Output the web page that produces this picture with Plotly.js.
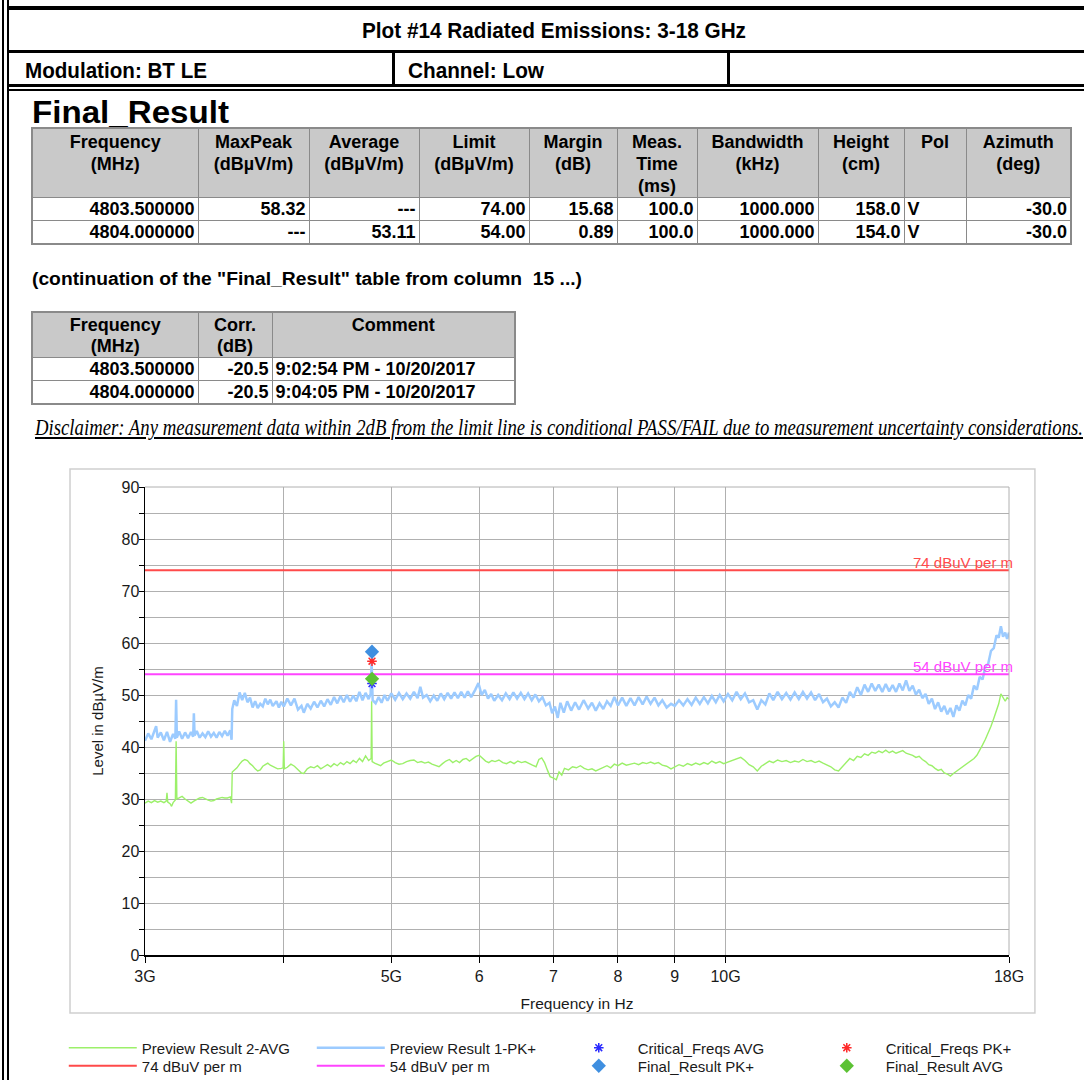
<!DOCTYPE html>
<html><head><meta charset="utf-8">
<script src="https://cdn.plot.ly/plotly-3.0.1.min.js"></script>
<style>
html,body{margin:0;padding:0;background:#fff}
body{width:1084px;height:1080px;overflow:hidden;position:relative;font-family:"Liberation Sans",Arial,sans-serif;color:#000}
.bk{position:absolute;background:#000}
.txt{position:absolute;white-space:nowrap;transform-origin:0 50%;display:inline-block;line-height:1}
.narrow{font-family:"Liberation Sans Narrow","Liberation Sans",Arial,sans-serif;font-weight:bold}
table.t{position:absolute;border-collapse:collapse;table-layout:fixed;font-weight:bold;font-size:18px;border:2px solid #8a8a8a}
table.t td,table.t th{border:1px solid #8a8a8a;padding:0 3px;white-space:nowrap;overflow:hidden}
table.t th{background:#c9c9c9;vertical-align:top;text-align:center;font-weight:bold;line-height:22px;padding-top:2px}
table.t td{text-align:right;height:21px;line-height:21px;background:#fff;padding-top:1px}
table.t td.l{text-align:left}
#chart{position:absolute;left:0;top:0;width:1084px;height:1080px}
</style></head><body>
<div id="chart"></div>

<div class="bk" style="left:2px;top:0;width:2px;height:1080px"></div>
<div class="bk" style="left:7px;top:0;width:2px;height:1080px"></div>
<div class="bk" style="left:7px;top:6px;width:1077px;height:4px"></div>
<div class="bk" style="left:7px;top:50px;width:1077px;height:3px"></div>
<div class="bk" style="left:392px;top:53px;width:3px;height:32px"></div>
<div class="bk" style="left:727px;top:53px;width:3px;height:32px"></div>
<div class="bk" style="left:7px;top:84px;width:1077px;height:3px"></div>
<div class="bk" style="left:7px;top:89px;width:1077px;height:2px"></div>

<div id="tTitle" class="txt narrow" style="left:362px;top:20px;font-size:22px"></div>
<div id="tMod" class="txt narrow" style="left:25px;top:60px;font-size:22px"></div>
<div id="tChan" class="txt narrow" style="left:408px;top:60px;font-size:22px"></div>
<div id="tFinal" class="txt" style="left:32px;top:96px;font-size:32px;font-weight:bold"></div>
<table id="tab1" class="t" style="left:31px;top:127px"></table>
<div id="tCont" class="txt" style="left:32px;top:270px;font-size:18px;font-weight:bold"></div>
<table id="tab2" class="t" style="left:31px;top:311px"></table>
<div id="tDisc" class="txt" style="left:35px;top:416px;font-size:23px;font-style:italic;font-family:'Liberation Serif','Times New Roman',serif;text-decoration:underline"></div>

<script>
// ---------- header texts ----------
const plotTitle = "Plot #14 Radiated Emissions: 3-18 GHz";
const modulationText = "Modulation: BT LE";
const channelText = "Channel: Low";
const finalTitle = "Final_Result";
const continuationText = '(continuation of the "Final_Result" table from column\u00a0 15 ...)';
const disclaimerText = "Disclaimer: Any measurement data within 2dB from the limit line is conditional PASS/FAIL due to measurement uncertainty considerations.";

// ---------- Final_Result table ----------
const finalHeaders = ["Frequency<br>(MHz)","MaxPeak<br>(dBµV/m)","Average<br>(dBµV/m)","Limit<br>(dBµV/m)","Margin<br>(dB)","Meas.<br>Time<br>(ms)","Bandwidth<br>(kHz)","Height<br>(cm)","Pol","Azimuth<br>(deg)"];
const finalColWidths = [166,111,110,110,88,80,121,86,62,105];
const finalFreqMHz = [4803.5, 4804.0];
const finalMaxPeak = [58.32, null];
const finalAverage = [null, 53.11];
const finalLimit = [74.00, 54.00];
const finalMargin = [15.68, 0.89];
const finalMeasTime = [100.0, 100.0];
const finalBandwidth = [1000.000, 1000.000];
const finalHeight = [158.0, 154.0];
const finalPol = ["V", "V"];
const finalAzimuth = [-30.0, -30.0];

// ---------- continuation table ----------
const contHeaders = ["Frequency<br>(MHz)","Corr.<br>(dB)","Comment"];
const contColWidths = [166,74,243];
const contCorr = [-20.5, -20.5];
const contComment = ["9:02:54 PM - 10/20/2017", "9:04:05 PM - 10/20/2017"];

// ---------- chart data (frequency in GHz, level in dBµV/m) ----------
const pkFreq = [
3.00,3.02,3.04,3.06,3.07,3.08,3.10,3.12,3.14,3.16,
3.18,3.195,3.20,3.205,3.22,3.24,3.26,3.28,3.30,3.315,
3.32,3.325,3.34,3.36,3.38,3.40,3.42,3.44,3.46,3.48,
3.50,3.52,3.54,3.56,3.58,3.59,3.595,3.61,3.63,3.65,
3.67,3.69,3.71,3.73,3.75,3.77,3.79,3.81,3.83,3.85,
3.87,3.89,3.91,3.94,3.96,3.98,4.00,4.03,4.06,4.09,
4.12,4.15,4.17,4.20,4.23,4.26,4.29,4.32,4.35,4.38,
4.41,4.44,4.47,4.50,4.53,4.56,4.59,4.62,4.65,4.68,
4.71,4.74,4.77,4.79,4.80,4.81,4.84,4.87,4.90,4.93,
4.96,5.00,5.04,5.08,5.12,5.16,5.20,5.24,5.28,5.31,
5.34,5.38,5.42,5.46,5.50,5.54,5.58,5.62,5.66,5.70,
5.74,5.78,5.82,5.86,5.90,5.95,5.99,6.03,6.07,6.11,
6.15,6.19,6.24,6.29,6.34,6.39,6.44,6.49,6.54,6.59,
6.64,6.69,6.74,6.79,6.84,6.89,6.94,6.98,7.02,7.06,
7.10,7.15,7.20,7.26,7.32,7.38,7.45,7.52,7.58,7.64,
7.70,7.76,7.82,7.88,7.94,8.00,8.07,8.14,8.21,8.28,
8.35,8.42,8.49,8.56,8.63,8.70,8.77,8.85,8.93,9.00,
9.08,9.16,9.24,9.32,9.40,9.48,9.56,9.64,9.72,9.80,
9.88,9.96,10.05,10.14,10.23,10.32,10.41,10.50,10.59,10.68,
10.77,10.86,10.95,11.04,11.14,11.24,11.34,11.44,11.54,11.64,
11.74,11.84,11.94,12.04,12.14,12.24,12.34,12.44,12.54,12.64,
12.74,12.84,12.94,13.04,13.14,13.24,13.34,13.44,13.54,13.64,
13.74,13.84,13.94,14.04,14.14,14.24,14.34,14.44,14.54,14.64,
14.74,14.84,14.94,15.04,15.14,15.24,15.34,15.44,15.54,15.64,
15.74,15.84,15.94,16.04,16.14,16.24,16.34,16.44,16.54,16.64,
16.74,16.84,16.94,17.04,17.14,17.24,17.34,17.44,17.54,17.62,
17.70,17.78,17.86,17.93,18.00];
const pkLevel = [
41.2,42.6,41.5,43.2,44.0,41.8,42.8,41.3,42.9,41.0,
42.5,41.6,49.1,41.8,43.0,41.6,42.8,41.7,42.9,42.0,
46.5,42.2,43.1,41.8,42.6,41.9,43.0,42.0,42.7,41.8,
42.9,42.1,43.1,42.2,43.2,41.4,47.3,49.0,47.9,50.5,
49.0,50.4,48.6,49.5,47.6,48.8,47.5,48.3,47.8,49.3,
48.2,49.1,47.9,48.8,47.6,48.7,47.8,49.3,48.0,49.3,
47.2,47.9,46.6,48.3,47.4,48.7,47.6,48.9,47.8,49.2,
48.1,49.6,48.4,49.8,48.6,50.0,48.7,49.9,48.8,50.6,
49.0,50.4,49.2,50.2,56.5,49.0,48.4,49.6,48.5,50.0,
48.9,50.3,49.1,50.4,49.2,50.3,49.3,50.6,49.4,51.6,
49.5,50.0,48.8,49.9,48.9,50.3,49.2,50.4,49.3,50.5,
49.4,50.6,49.5,50.7,49.6,51.0,52.3,50.0,51.0,49.3,
50.2,48.9,50.0,49.0,50.3,49.2,50.5,49.3,50.4,49.2,
50.3,49.0,50.1,48.8,49.6,48.0,48.5,46.5,47.8,45.6,
48.5,46.6,48.8,47.0,48.6,47.2,49.0,47.4,48.5,47.0,
48.4,47.3,48.8,47.9,49.6,48.0,49.5,47.9,49.4,48.0,
49.6,48.2,49.7,48.3,49.5,48.0,49.0,47.6,48.3,47.9,
49.0,48.0,49.2,48.1,49.5,48.3,49.6,48.4,49.8,48.6,
50.0,48.8,50.2,49.0,50.6,49.2,50.3,48.6,49.0,47.2,
49.0,48.2,50.3,49.0,50.6,49.2,50.4,49.1,50.5,49.2,
50.6,49.3,50.5,49.0,50.2,48.6,49.3,47.8,48.6,47.6,
49.5,48.5,50.6,49.5,51.5,50.0,52.0,50.6,52.2,50.8,
52.0,50.6,52.1,50.7,51.9,50.6,52.2,50.9,52.8,50.8,
51.8,50.1,51.0,49.4,50.2,48.3,49.3,47.3,48.6,46.8,
47.9,46.3,47.5,45.8,48.0,47.0,48.9,48.0,50.0,49.3,
51.8,51.0,53.5,53.0,55.5,56.0,58.5,59.0,61.5,61.0,
63.2,61.2,62.0,60.8,62.0];

const avgFreq = [
3.00,3.02,3.04,3.06,3.08,3.10,3.12,3.135,3.14,3.145,
3.16,3.17,3.18,3.19,3.195,3.20,3.205,3.22,3.24,3.26,
3.28,3.30,3.32,3.34,3.36,3.38,3.40,3.42,3.44,3.46,
3.48,3.50,3.52,3.54,3.56,3.58,3.59,3.595,3.61,3.63,
3.65,3.67,3.69,3.71,3.73,3.75,3.77,3.79,3.81,3.83,
3.85,3.87,3.89,3.92,3.95,3.98,3.995,4.00,4.005,4.03,
4.06,4.09,4.12,4.15,4.17,4.20,4.23,4.26,4.29,4.32,
4.35,4.38,4.41,4.44,4.47,4.50,4.53,4.56,4.59,4.62,
4.65,4.68,4.71,4.74,4.77,4.795,4.80,4.805,4.83,4.86,
4.89,4.92,4.96,5.00,5.04,5.08,5.12,5.16,5.20,5.24,
5.28,5.32,5.36,5.40,5.44,5.48,5.52,5.56,5.60,5.64,
5.68,5.72,5.76,5.80,5.84,5.88,5.92,5.96,6.00,6.04,
6.08,6.12,6.16,6.20,6.25,6.30,6.35,6.40,6.45,6.50,
6.55,6.60,6.65,6.70,6.75,6.79,6.83,6.87,6.91,6.95,
7.00,7.04,7.08,7.12,7.16,7.22,7.28,7.34,7.40,7.46,
7.52,7.58,7.64,7.70,7.76,7.82,7.88,7.94,8.00,8.07,
8.14,8.21,8.28,8.35,8.42,8.49,8.56,8.63,8.70,8.77,
8.85,8.93,9.00,9.08,9.16,9.24,9.32,9.40,9.48,9.56,
9.64,9.72,9.80,9.88,9.96,10.05,10.14,10.23,10.32,10.41,
10.50,10.59,10.68,10.77,10.86,10.95,11.04,11.14,11.24,11.34,
11.44,11.54,11.64,11.74,11.84,11.94,12.04,12.14,12.24,12.34,
12.44,12.54,12.64,12.74,12.84,12.94,13.04,13.14,13.24,13.34,
13.44,13.54,13.64,13.74,13.84,13.94,14.04,14.14,14.24,14.34,
14.44,14.54,14.64,14.74,14.84,14.94,15.04,15.14,15.24,15.34,
15.44,15.54,15.64,15.74,15.84,15.94,16.04,16.14,16.24,16.34,
16.44,16.54,16.64,16.74,16.84,16.94,17.04,17.14,17.24,17.34,
17.44,17.54,17.62,17.70,17.78,17.86,17.93,18.00];
const avgLevel = [
29.2,29.6,29.3,29.7,29.4,29.6,29.3,29.6,31.2,29.4,
29.1,28.6,29.3,29.8,29.8,41.1,30.0,30.2,30.5,30.0,
29.6,29.2,29.6,29.9,30.2,30.3,30.0,29.8,29.6,29.7,
30.0,30.1,30.3,30.2,30.2,30.4,29.2,35.2,35.5,36.0,
36.7,37.3,37.6,37.4,36.8,36.4,35.8,35.4,35.6,36.3,
36.6,36.9,36.5,36.2,35.8,35.9,36.0,41.1,35.8,36.1,
36.7,36.3,35.6,35.0,34.9,35.8,36.2,36.0,36.4,35.8,
36.2,36.6,36.2,36.8,36.4,37.0,36.6,37.2,36.8,37.4,
37.0,37.8,37.2,38.3,37.4,37.8,48.8,37.2,36.9,36.6,
36.4,36.9,37.2,37.5,37.0,36.7,36.8,37.2,37.4,37.5,
37.0,37.2,36.9,37.1,36.7,36.4,36.2,36.8,37.3,37.6,
37.0,37.4,37.0,37.6,37.8,37.3,37.8,38.2,38.4,37.8,
37.3,37.0,37.4,37.2,37.5,37.0,36.8,37.2,36.8,37.3,
37.0,37.2,36.8,36.5,36.2,37.6,37.9,37.0,35.6,34.3,
34.0,33.7,35.2,34.6,35.9,35.6,36.2,36.0,36.4,35.9,
35.6,35.8,35.4,35.7,36.0,36.4,36.0,36.7,36.4,36.9,
36.5,36.7,36.9,36.6,37.0,36.8,37.1,36.8,37.0,36.5,
36.3,35.8,36.2,36.6,36.3,36.8,36.5,36.9,36.6,37.0,
36.7,37.3,36.9,37.2,36.8,37.1,37.4,37.6,38.0,37.4,
36.6,36.2,35.4,36.3,36.8,37.3,37.0,37.5,37.2,37.4,
37.0,37.3,37.1,37.6,37.2,37.4,37.0,37.3,36.9,36.6,
36.2,35.6,35.4,36.2,37.0,37.8,37.4,38.2,38.0,38.7,
38.4,39.0,38.8,39.2,38.9,39.4,38.9,39.2,38.8,39.1,
39.3,38.8,38.6,38.4,38.0,38.2,37.6,37.2,36.6,36.4,
35.9,35.5,35.7,35.0,34.8,34.4,34.9,35.3,35.8,36.1,
36.6,37.0,37.3,37.8,38.4,39.3,40.4,41.5,42.6,44.0,
45.5,47.0,48.3,50.2,49.6,48.8,49.5,49.2];

const critFreqMHz = [4803.5];
const critAvg = [52.2];
const critPk = [56.5];

const limitFreq = [3, 18];
const limitPk = [74, 74];
const limitAvg = [54, 54];

const xTickVals = [3,4,5,6,7,8,9,10,18];
const xTickText = ["3G","","5G","6","7","8","9","10G","18G"];
const yTickVals = [0,5,10,15,20,25,30,35,40,45,50,55,60,65,70,75,80,85,90];
const yTickText = ["0","","10","","20","","30","","40","","50","","60","","70","","80","","90"];

// ---------- build header / tables ----------
function fmt(v, d){ return (v === null || v === undefined) ? "---" : v.toFixed(d); }
document.getElementById('tTitle').textContent = plotTitle;
document.getElementById('tMod').textContent = modulationText;
document.getElementById('tChan').textContent = channelText;
document.getElementById('tFinal').textContent = finalTitle;
document.getElementById('tCont').textContent = continuationText;
document.getElementById('tDisc').textContent = disclaimerText;

let h1 = '<colgroup>' + finalColWidths.map(w => '<col style="width:'+w+'px">').join('') + '</colgroup>';
h1 += '<tr style="height:69px">' + finalHeaders.map(h => '<th>'+h+'</th>').join('') + '</tr>';
for (let i = 0; i < finalFreqMHz.length; i++) {
  h1 += '<tr>' +
    '<td>'+finalFreqMHz[i].toFixed(6)+'</td>' +
    '<td>'+fmt(finalMaxPeak[i],2)+'</td>' +
    '<td>'+fmt(finalAverage[i],2)+'</td>' +
    '<td>'+fmt(finalLimit[i],2)+'</td>' +
    '<td>'+fmt(finalMargin[i],2)+'</td>' +
    '<td>'+fmt(finalMeasTime[i],1)+'</td>' +
    '<td>'+fmt(finalBandwidth[i],3)+'</td>' +
    '<td>'+fmt(finalHeight[i],1)+'</td>' +
    '<td class="l">'+finalPol[i]+'</td>' +
    '<td>'+fmt(finalAzimuth[i],1)+'</td></tr>';
}
document.getElementById('tab1').innerHTML = h1;

let h2 = '<colgroup>' + contColWidths.map(w => '<col style="width:'+w+'px">').join('') + '</colgroup>';
h2 += '<tr style="height:45px">' + contHeaders.map(h => '<th style="line-height:21px">'+h+'</th>').join('') + '</tr>';
for (let i = 0; i < finalFreqMHz.length; i++) {
  h2 += '<tr><td>'+finalFreqMHz[i].toFixed(6)+'</td><td>'+fmt(contCorr[i],1)+'</td><td class="l">'+contComment[i]+'</td></tr>';
}
document.getElementById('tab2').innerHTML = h2;

function fitWidth(id, target){
  const el = document.getElementById(id);
  const w = el.getBoundingClientRect().width;
  if (w > 0) el.style.transform = 'scaleX(' + (target / w) + ')';
}
fitWidth('tTitle', 384);
fitWidth('tMod', 182);
fitWidth('tChan', 136);
fitWidth('tFinal', 197);
fitWidth('tCont', 550);
fitWidth('tDisc', 1048);

// ---------- chart ----------
const toGHz = a => a.map(v => v / 1000);
const traces = [
  {type:'scatter', mode:'lines', name:'Preview Result 2-AVG', x:avgFreq, y:avgLevel,
   line:{color:'#9cf06a', width:1.4}, legend:'legend'},
  {type:'scatter', mode:'lines', name:'Preview Result 1-PK+', x:pkFreq, y:pkLevel,
   line:{color:'#9ccbff', width:2.5}, legend:'legend'},
  {type:'scatter', mode:'markers', name:'Critical_Freqs AVG', x:toGHz(critFreqMHz), y:critAvg,
   marker:{symbol:'asterisk-open', size:8, color:'#2a2aff', line:{color:'#2a2aff', width:1.5}}, legend:'legend'},
  {type:'scatter', mode:'markers', name:'Critical_Freqs PK+', x:toGHz(critFreqMHz), y:critPk,
   marker:{symbol:'asterisk-open', size:8, color:'#ff2a2a', line:{color:'#ff2a2a', width:1.5}}, legend:'legend'},
  {type:'scatter', mode:'lines', name:'74 dBuV per m', x:limitFreq, y:limitPk,
   line:{color:'#ff4a4a', width:2}, legend:'legend2'},
  {type:'scatter', mode:'lines', name:'54 dBuV per m', x:limitFreq, y:limitAvg,
   line:{color:'#ff44ff', width:2}, legend:'legend2'},
  {type:'scatter', mode:'markers', name:'Final_Result PK+', x:toGHz([finalFreqMHz[0]]), y:[finalMaxPeak[0]],
   marker:{symbol:'diamond', size:11, color:'#3f8fe0'}, legend:'legend2'},
  {type:'scatter', mode:'markers', name:'Final_Result AVG', x:toGHz([finalFreqMHz[1]]), y:[finalAverage[1]],
   marker:{symbol:'diamond', size:11, color:'#5cc234'}, legend:'legend2'}
];

const gridC = '#b0b0b0';
const legendBase = {orientation:'h', x:-0.094, xanchor:'left', yanchor:'middle',
  entrywidth:165, entrywidthmode:'pixels', itemwidth:68, bgcolor:'rgba(0,0,0,0)',
  font:{size:15, color:'#1a1a1a'}, traceorder:'normal', tracegroupgap:0};
const layout = {
  width:1084, height:1080,
  margin:{l:145, r:75, t:487, b:125, pad:0, autoexpand:false},
  paper_bgcolor:'rgba(0,0,0,0)', plot_bgcolor:'#ffffff',
  font:{family:'"Liberation Sans", Arial, sans-serif', size:15, color:'#1a1a1a'},
  showlegend:true,
  xaxis:{type:'log', range:[Math.log10(3), Math.log10(18)], tickmode:'array',
    tickvals:xTickVals, ticktext:xTickText, ticks:'outside', ticklen:6, tickwidth:1, tickcolor:'#000',
    showline:true, linecolor:'#000', linewidth:1.5, showgrid:true, gridcolor:gridC, gridwidth:1,
    zeroline:false, tickfont:{size:16},
    title:{text:'Frequency in Hz', font:{size:15.5}, standoff:14}},
  yaxis:{range:[0,90], tickmode:'array', tickvals:yTickVals, ticktext:yTickText,
    ticks:'outside', ticklen:5, tickwidth:1, tickcolor:'#000', ticklabelstandoff:-4,
    showline:true, linecolor:'#000', linewidth:1.5, showgrid:true, gridcolor:gridC, gridwidth:1,
    zeroline:false, tickfont:{size:16},
    title:{text:'Level in dBµV/m', font:{size:15}, standoff:14}},
  legend:Object.assign({}, legendBase, {y:-0.1987}),
  legend2:Object.assign({}, legendBase, {y:-0.2372}),
  shapes:[
    {type:'line', xref:'paper', yref:'paper', x0:0, x1:1, y0:1, y1:1, line:{color:gridC, width:1}},
    {type:'line', xref:'paper', yref:'paper', x0:1, x1:1, y0:0, y1:1, line:{color:gridC, width:1}},
    {type:'rect', xref:'paper', yref:'paper', x0:-0.0868, x1:1.030, y0:-0.124, y1:1.0385,
     line:{color:'#cfcfcf', width:1.5}, fillcolor:'rgba(0,0,0,0)', layer:'below'}
  ],
  annotations:[
    {xref:'paper', yref:'y', x:1.007, y:limitPk[0], xanchor:'right', yanchor:'middle', yshift:8,
     text:'74 dBuV per m', showarrow:false, font:{size:15, color:'#ff4a4a'}},
    {xref:'paper', yref:'y', x:1.007, y:limitAvg[0], xanchor:'right', yanchor:'middle', yshift:8,
     text:'54 dBuV per m', showarrow:false, font:{size:15, color:'#ff44ff'}}
  ]
};
Plotly.newPlot('chart', traces, layout, {staticPlot:true, displayModeBar:false});
</script>
</body></html>
